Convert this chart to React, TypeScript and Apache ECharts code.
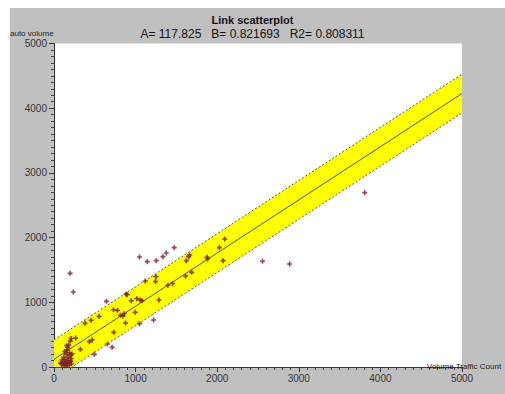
import React, { useEffect, useRef } from "react";
import * as echarts from "echarts";

const TITLE = "Link scatterplot";
const SUBTITLE = "A= 117.825   B= 0.821693   R2= 0.808311";
const REG_A = 117.825;
const REG_B = 0.821693;
const BAND = 300;
const X_MAX = 5000;
const Y_MAX = 5000;

// [traffic count, auto volume]
const clusterPoints: number[][] = [
  [80, 60], [95, 40], [110, 80], [120, 30], [130, 120], [140, 60], [150, 90],
  [160, 40], [170, 150], [175, 100], [190, 70], [200, 180], [210, 130], [215, 50],
  [150, 200], [160, 260], [170, 300], [180, 340], [190, 220], [200, 400], [210, 440],
  [120, 150], [100, 110], [140, 20], [185, 30], [205, 90], [220, 200], [130, 240], [155, 330],
];
const otherPoints: number[][] = [
  [197, 1448], [237, 1159], [266, 448], [323, 273], [381, 675], [434, 392], [467, 417],
  [455, 722], [495, 196], [553, 783], [643, 1015], [655, 355], [713, 304], [733, 536],
  [729, 885], [778, 876], [815, 799], [845, 790], [860, 824], [876, 680], [884, 1128],
  [897, 1118], [946, 1025], [995, 845], [1016, 1056], [1048, 1700], [1057, 1035],
  [1077, 1025], [1048, 670], [1118, 1329], [1143, 1628], [1220, 727], [1245, 1320],
  [1249, 1396], [1253, 1643], [1286, 1035], [1335, 1705], [1376, 1762], [1396, 1263],
  [1454, 1290], [1474, 1844], [1613, 1406], [1622, 1643], [1650, 1705], [1662, 1731],
  [1687, 1463], [1876, 1695], [1883, 1669], [2027, 1844], [2072, 1643], [2093, 1978],
  [2555, 1634], [2887, 1592], [3808, 2694],
];

export default function App() {
  const ref = useRef<HTMLDivElement>(null);
  useEffect(() => {
    document.body.style.margin = "0";
    const chart = echarts.init(ref.current!, null, { renderer: "svg" });
    const reg = (x: number) => REG_A + REG_B * x;
    const lowerZeroX = (BAND - REG_A) / REG_B;
    const bandPoly = [
      [0, reg(0) + BAND],
      [X_MAX, reg(X_MAX) + BAND],
      [X_MAX, reg(X_MAX) - BAND],
      [lowerZeroX, 0],
      [0, 0],
    ];
    const font = "'Liberation Sans', Arial, sans-serif";
    const plain = (v: number) => String(v);
    chart.setOption({
      animation: false,
      backgroundColor: "#c0c0c0",
      title: {
        text: TITLE,
        subtext: SUBTITLE,
        left: "center",
        top: 9,
        itemGap: 3,
        textStyle: { fontFamily: font, fontSize: 11, fontWeight: "bold", color: "#111" },
        subtextStyle: { fontFamily: font, fontSize: 12, color: "#111" },
      },
      graphic: [
        { type: "rect", left: 0, top: 0, shape: { width: 505, height: 8 }, style: { fill: "#fff" }, silent: true },
        { type: "rect", left: 0, top: 0, shape: { width: 10, height: 394 }, style: { fill: "#fff" }, silent: true },
        { type: "text", left: 10, top: 29, style: { text: "auto volume", font: `8px ${font}`, fill: "#222" } },
        { type: "text", left: 427, top: 362, style: { text: "Volume Traffic Count", font: `8px ${font}`, fill: "#222" }, z: 100 },
      ],
      grid: {
        left: 54,
        top: 43.5,
        width: 408,
        height: 323.5,
        show: true,
        backgroundColor: "#fff",
        borderWidth: 0,
      },
      xAxis: {
        type: "value",
        min: 0,
        max: X_MAX,
        interval: 1000,
        splitLine: { show: false },
        axisLine: { show: true, lineStyle: { color: "#333" } },
        axisTick: { show: true, length: 5, lineStyle: { color: "#333" } },
        minorTick: { show: true, splitNumber: 10, length: 3, lineStyle: { color: "#444" } },
        axisLabel: { margin: 6, fontFamily: font, fontSize: 10, color: "#333", formatter: plain },
      },
      yAxis: {
        type: "value",
        min: 0,
        max: Y_MAX,
        interval: 1000,
        splitLine: { show: false },
        axisLine: { show: true, lineStyle: { color: "#333" } },
        axisTick: { show: true, length: 5, lineStyle: { color: "#333" } },
        minorTick: { show: true, splitNumber: 10, length: 3, lineStyle: { color: "#444" } },
        axisLabel: { margin: 7, fontFamily: font, fontSize: 10, color: "#333", formatter: plain },
      },
      series: [
        {
          type: "custom",
          silent: true,
          z: 1,
          data: [0],
          renderItem: (params: any, api: any) => ({
            type: "polygon",
            shape: { points: bandPoly.map((p) => api.coord(p)) },
            style: { fill: "#ffff00", stroke: "none" },
          }),
        },
        {
          type: "line",
          z: 2,
          symbol: "none",
          data: [[0, reg(0) + BAND], [X_MAX, reg(X_MAX) + BAND]],
          lineStyle: { color: "#555", width: 1, type: [2, 2] },
        },
        {
          type: "line",
          z: 2,
          symbol: "none",
          data: [[0, reg(0) - BAND], [X_MAX, reg(X_MAX) - BAND]],
          lineStyle: { color: "#555", width: 1, type: [2, 2] },
        },
        {
          type: "line",
          z: 2,
          symbol: "none",
          data: [[0, reg(0)], [X_MAX, reg(X_MAX)]],
          lineStyle: { color: "#4d5a1e", width: 1 },
        },
        {
          type: "scatter",
          z: 3,
          symbol: "path://M2,0H4V2H6V4H4V6H2V4H0V2H2Z",
          symbolSize: 5,
          itemStyle: { color: "#7a1a2a" },
          data: [...clusterPoints, ...otherPoints],
        },
      ],
    });
    return () => chart.dispose();
  }, []);
  return <div ref={ref} style={{ width: 505, height: 394 }} />;
}
